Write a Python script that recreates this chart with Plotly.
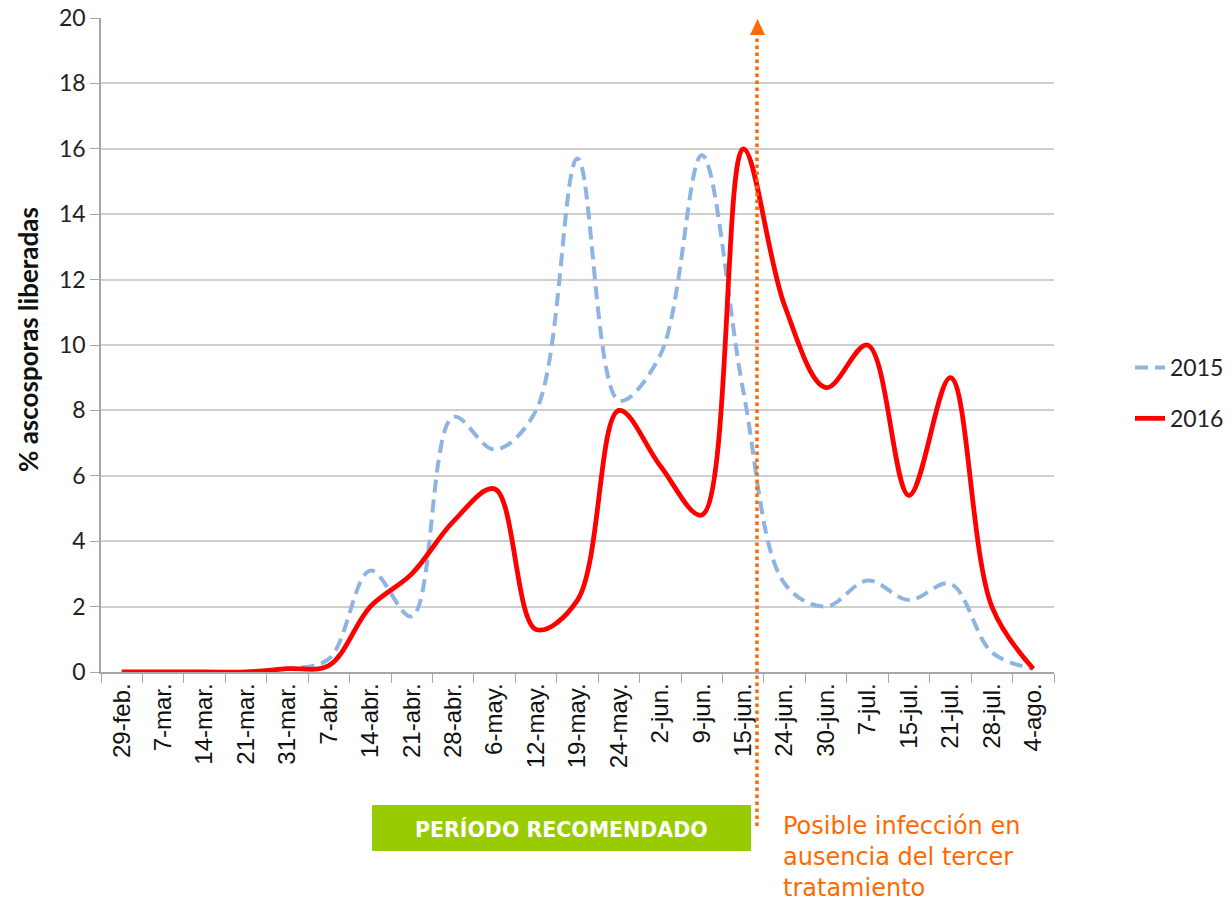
import plotly.graph_objects as go

dates = ["29-feb.", "7-mar.", "14-mar.", "21-mar.", "31-mar.", "7-abr.", "14-abr.",
         "21-abr.", "28-abr.", "6-may.", "12-may.", "19-may.", "24-may.", "2-jun.",
         "9-jun.", "15-jun.", "24-jun.", "30-jun.", "7-jul.", "15-jul.", "21-jul.",
         "28-jul.", "4-ago."]
y2015 = [0, 0, 0, 0, 0.1, 0.4, 3.1, 1.7, 7.8, 6.8, 8.0, 15.7, 8.3, 9.7, 15.8, 8.6,
         2.7, 2.0, 2.8, 2.2, 2.7, 0.6, 0.1]
y2016 = [0, 0, 0, 0, 0.1, 0.2, 2.0, 3.0, 4.6, 5.6, 1.3, 2.2, 8.0, 6.3, 4.8, 16.0,
         11.2, 8.7, 10.0, 5.4, 9.0, 2.0, 0.1]
yticks = list(range(0, 21, 2))

W, H = 1232, 902
# plot area in pixels: x 101..1054, y 18..672
ML, MT = 101, 18
MR = W - 1054
MB = H - 672
PW, PH = W - ML - MR, H - MT - MB


def px(x):  # pixel -> paper
    return (x - ML) / PW


def py(y):
    return (H - MB - y) / PH


fig = go.Figure()
fig.add_trace(go.Scatter(
    x=dates, y=y2015, name="2015", mode="lines", legendgroup="a",
    line=dict(color="#8DB4E2", width=4, dash="13px,7px", shape="spline", smoothing=1.0),
))
fig.add_trace(go.Scatter(
    x=dates, y=y2016, name="2016", mode="lines", legendgroup="b",
    line=dict(color="#FF0000", width=4.8, shape="spline", smoothing=1.0),
))

orange = "#FF6A00"
# dotted arrow line
fig.add_shape(type="line", xref="paper", yref="paper",
              x0=px(757), x1=px(757), y0=py(826), y1=py(32),
              line=dict(color=orange, width=3.5, dash="dot"))
fig.add_shape(type="path", xref="paper", yref="paper",
              path=f"M {px(750)} {py(35)} L {px(757.5)} {py(19)} L {px(765)} {py(35)} Z",
              fillcolor=orange, line=dict(color=orange, width=0))
# green box
fig.add_shape(type="rect", xref="paper", yref="paper",
              x0=px(372), x1=px(751), y0=py(851), y1=py(805),
              fillcolor="#99CC00", line=dict(width=0))
fig.add_annotation(xref="paper", yref="paper", x=px(561), y=py(829),
                   yanchor="middle",
                   text="<b>PERÍODO RECOMENDADO</b>", showarrow=False,
                   font=dict(family="DejaVu Sans", size=20.5, color="white"))
fig.add_annotation(xref="paper", yref="paper", x=px(781), y=py(810),
                   xanchor="left", yanchor="top", align="left",
                   text="Posible infección en<br>ausencia del tercer<br>tratamiento",
                   showarrow=False,
                   font=dict(family="DejaVu Sans", size=24, color=orange))
# y-axis title
fig.add_annotation(xref="paper", yref="paper", x=px(28), y=py(340),
                   xanchor="center", yanchor="middle", textangle=-90,
                   text="<b>% ascosporas liberadas</b>", showarrow=False,
                   font=dict(family="Lato", size=26, color="#111"))

fig.update_layout(
    width=W, height=H,
    margin=dict(l=ML, r=MR, t=MT, b=MB, pad=0, autoexpand=False),
    paper_bgcolor="white", plot_bgcolor="white",
    showlegend=True,
    legend=dict(x=px(1130), y=py(393), xanchor="left", yanchor="middle",
                font=dict(family="Lato", size=23, color="#222"),
                tracegroupgap=18, bgcolor="rgba(0,0,0,0)"),
    xaxis=dict(type="category", range=[-0.5, len(dates) - 0.5], automargin=False,
               showgrid=False, showline=True, linecolor="#A6A6A6", linewidth=1.5,
               ticks="outside", tickson="boundaries", ticklen=9, tickcolor="#A6A6A6",
               tickangle=-90, tickfont=dict(family="Liberation Sans", size=24, color="#111"),
               zeroline=False),
    yaxis=dict(range=[0, 20], tickmode="array", tickvals=yticks,
               showgrid=True, gridcolor="#CFCFCF", gridwidth=1.5,
               showline=True, linecolor="#A6A6A6", linewidth=1.5, automargin=False,
               ticks="outside", ticklen=9, tickcolor="#A6A6A6",
               tickfont=dict(family="Lato", size=23, color="#222"), zeroline=False),
)

fig.write_html("out.html", config={"displayModeBar": False},
               post_script="document.body.style.margin='0px';document.body.style.overflow='hidden';")
